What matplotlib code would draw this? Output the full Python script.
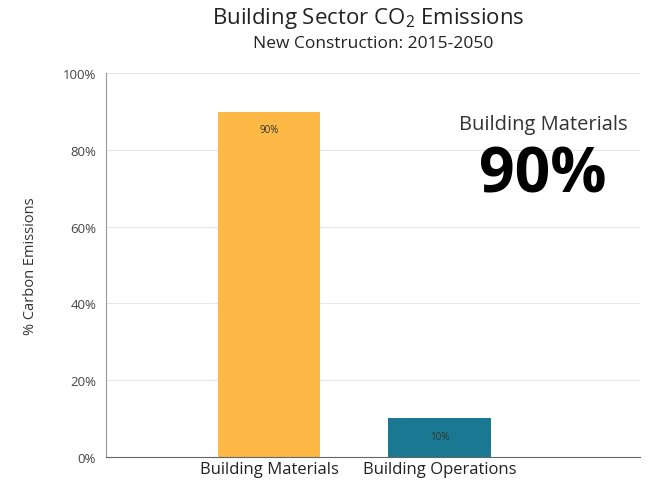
import numpy as np
import matplotlib
matplotlib.use("Agg")
import matplotlib.pyplot as plt

plt.rcParams['font.family'] = ['Open Sans', 'DejaVu Sans']
plt.rcParams['mathtext.default'] = 'regular'

categories = ['Building Materials', 'Building Operations']
shares = [90, 10]
bar_labels = ['90%', '10%']
yticks = [0, 20, 40, 60, 80, 100]
ytick_labels = ['0%', '20%', '40%', '60%', '80%', '100%']
colors = ['#FDB846', '#1A7892']

fig = plt.figure(figsize=(6.54, 4.85), dpi=100)
ax = fig.add_axes([0.162, 0.056, 0.817, 0.791])

x = np.arange(len(categories))
bars = ax.bar(x, shares, width=0.6, color=colors, zorder=2)

ax.set_xlim(-0.96, 2.18)
ax.set_ylim(0, 100)
ax.set_yticks(yticks)
ax.set_yticklabels(ytick_labels, fontsize=9.5, color='#444444')
ax.set_xticks(x)
ax.set_xticklabels(categories, fontsize=12, color='#222222')
ax.tick_params(length=0, pad=3)
ax.tick_params(axis='y', pad=7)

ax.grid(axis='y', color='#e6e6e6', linewidth=0.8, zorder=0)
for s in ['top', 'right']:
    ax.spines[s].set_visible(False)
ax.spines['left'].set_color('#999999')
ax.spines['bottom'].set_color('#666666')

ax.set_ylabel('% Carbon Emissions', fontsize=10.5, color='#333333', labelpad=18)

for b, lab in zip(bars, bar_labels):
    ax.text(b.get_x() + b.get_width() / 2, b.get_height() - 4.8, lab,
            ha='center', va='center', fontsize=7, color='#333333')

ax.text(0.818, 0.868, 'Building Materials', transform=ax.transAxes,
        ha='center', va='center', fontsize=14.5, color='#333333')
ax.text(0.818, 0.735, '90%', transform=ax.transAxes,
        ha='center', va='center', fontsize=45, fontweight='bold', color='black')

fig.text(0.563, 0.962, 'Building Sector CO$_2$ Emissions', ha='center', va='center',
         fontsize=16, color='#222222')
fig.text(0.571, 0.909, 'New Construction: 2015-2050', ha='center', va='center',
         fontsize=12.5, color='#222222')

fig.savefig('out.png', dpi=100)
